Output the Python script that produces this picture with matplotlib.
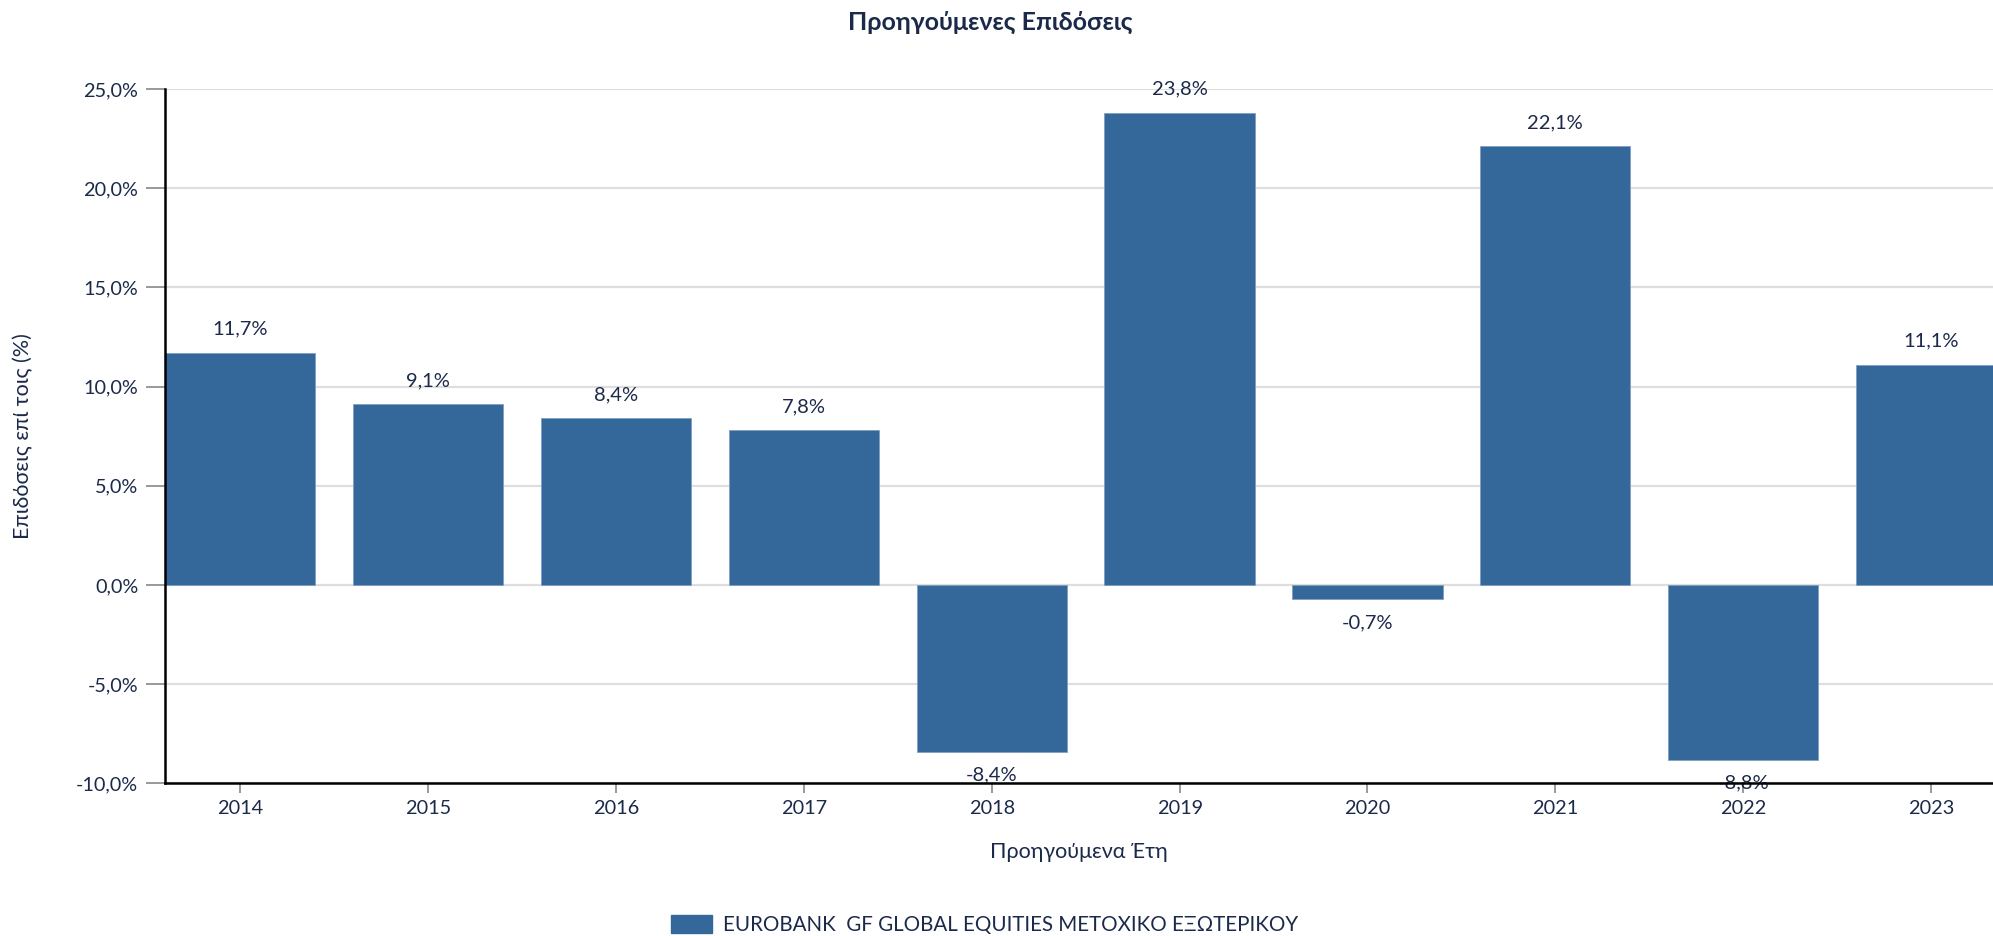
import matplotlib.pyplot as plt
from matplotlib.patches import Patch

years = ["2014", "2015", "2016", "2017", "2018", "2019", "2020", "2021", "2022", "2023"]
returns = [11.7, 9.1, 8.4, 7.8, -8.4, 23.8, -0.7, 22.1, -8.8, 11.1]
y_ticks = [-10, -5, 0, 5, 10, 15, 20, 25]
fund_name = "EUROBANK  GF GLOBAL EQUITIES ΜΕΤΟΧΙΚΟ ΕΞΩΤΕΡΙΚΟΥ"

bar_color = "#34689a"
text_color = "#1b2a4a"

plt.rcParams['font.family'] = ['Lato', 'DejaVu Sans']

fig = plt.figure(figsize=(19.93, 9.36), dpi=100)
ax = fig.add_axes([0.0829, 0.163, 0.9171, 0.742])

x = list(range(len(years)))
ax.bar(x, returns, width=0.8, color=bar_color, edgecolor="#7f9fc2",
       linewidth=0.6, zorder=3)

for xi, v in zip(x, returns):
    label = f"{v:.1f}%".replace(".", ",")
    off = 17 if v >= 0 else -17
    ax.annotate(label, (xi, v), xytext=(0, off), textcoords="offset points",
                ha="center", va="center", fontsize=14.5, color=text_color, zorder=2)

ax.set_xlim(-0.4, 9.33)
ax.set_ylim(-10, 25)
ax.set_yticks(y_ticks)
ax.set_yticklabels([f"{t:.1f}%".replace(".", ",") for t in y_ticks])
ax.set_xticks(x)
ax.set_xticklabels(years)

ax.grid(axis="y", color="#dedede", linewidth=1.6, zorder=0)
ax.set_axisbelow(True)

for s in ["top", "right"]:
    ax.spines[s].set_visible(False)
for s in ["left", "bottom"]:
    ax.spines[s].set_color("black")
    ax.spines[s].set_linewidth(1.8)
    ax.spines[s].set_zorder(4)

ax.tick_params(axis="y", length=13.5, width=1.2, color="#888888", pad=6,
               labelsize=14.3, labelcolor=text_color)
ax.tick_params(axis="x", length=7, width=1.2, color="#888888", pad=5,
               labelsize=14.3, labelcolor=text_color)

fig.text(0.497, 0.9755, "Προηγούμενες Επιδόσεις", ha="center", va="center",
         fontsize=18, fontweight="bold", color=text_color)
fig.text(0.0115, 0.534, "Επιδόσεις επί τοις (%)", rotation=90, ha="center",
         va="center", fontsize=15.5, color=text_color)
fig.text(0.5415, 0.0897, "Προηγούμενα Έτη", ha="center", va="center",
         fontsize=15.5, color=text_color)

fig.legend(handles=[Patch(color=bar_color, label=fund_name)], loc="center",
           bbox_to_anchor=(0.494, 0.012), frameon=False, fontsize=14.8,
           labelcolor=text_color, handlelength=2.0, handleheight=1.0,
           handletextpad=0.5)

fig.savefig("out.png", dpi=100)
